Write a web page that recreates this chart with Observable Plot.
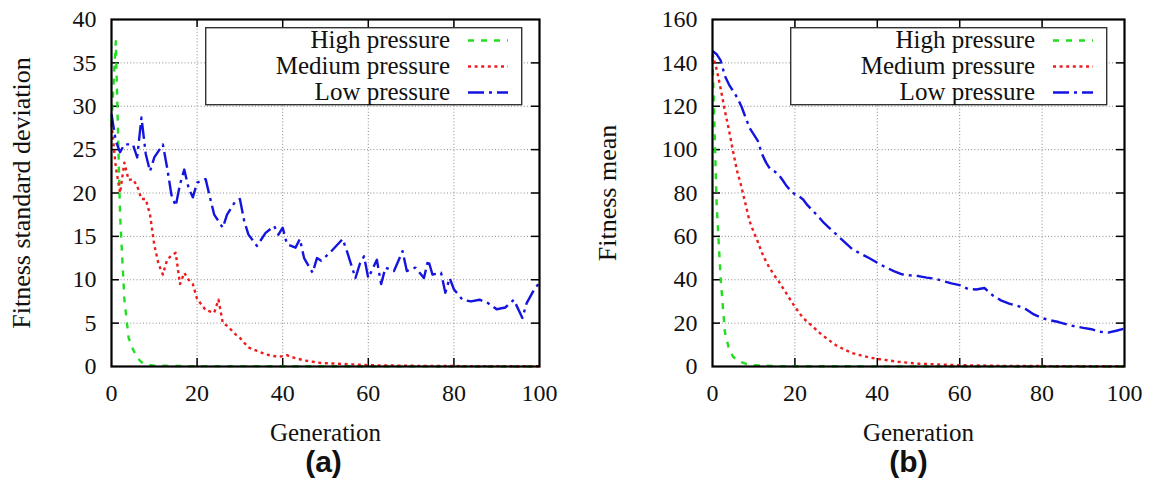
<!DOCTYPE html>
<html><head><meta charset="utf-8">
<script src="https://cdn.jsdelivr.net/npm/d3@7"></script>
<script src="https://cdn.jsdelivr.net/npm/@observablehq/plot@0.6"></script>
<style>
body{margin:0;background:#fff;}
#wrap{position:relative;width:1151px;height:482px;overflow:hidden;background:#fff;}
.panel{position:absolute;top:0;}
.legend{position:absolute;top:17px;overflow:visible;}
</style></head><body><div id="wrap"></div>
<script>
// ---------- shared ----------
const seriesNames = ["High pressure", "Medium pressure", "Low pressure"];
const seriesColors = ["#22dd22", "#ee1c1c", "#1414e0"];
const seriesDashes = ["6,7", "3,3.6", "16,5,3,5"];
const xTickValues = [0, 20, 40, 60, 80, 100];
const xLabel = "Generation";
const SERIF = '"Liberation Serif", "Times New Roman", serif';
const SANS = '"Liberation Sans", Arial, sans-serif';

// ---------- panel (a): fitness standard deviation ----------
const aYLabel = "Fitness standard deviation";
const aTag = "(a)";
const aYTicks = [0, 5, 10, 15, 20, 25, 30, 35, 40];
const aHighGen = [0, 1, 2, 3, 4, 5, 6, 7, 8, 10, 15, 100];
const aHighVal = [28, 37.5, 17.5, 7.8, 3.3, 2.0, 1.0, 0.5, 0.25, 0.1, 0.05, 0];
const aMedGen = [0, 1, 2, 3, 4, 5, 6, 7, 8, 9, 10, 11, 12, 13, 14, 15, 16, 17, 18, 19, 20, 22, 24, 25, 26, 27, 29, 30, 32, 34, 36, 39, 41, 42, 45, 49, 54, 60, 70, 80, 100];
const aMedVal = [28, 23, 20, 23.5, 21.5, 21.6, 20.8, 19.3, 19.3, 17.5, 14.0, 11.8, 10.6, 12.3, 12.8, 13.1, 9.5, 10.8, 10.0, 9.5, 7.8, 6.5, 6.2, 7.7, 5.0, 4.7, 3.7, 3.3, 2.2, 1.8, 1.4, 1.1, 1.3, 1.1, 0.7, 0.4, 0.3, 0.15, 0.08, 0.05, 0.03];
const aLowGen = [0, 1, 2, 3, 5, 6, 7, 8, 9, 10, 12, 13, 14, 15, 16, 17, 18, 19, 20, 22, 23, 24, 26, 27, 29, 30, 31, 32, 34, 36, 38, 39, 40, 41, 43, 44, 45, 47, 48, 49, 51, 54, 55, 57, 58, 59, 60, 62, 63, 64, 66, 68, 69, 71, 72, 73, 74, 75, 77, 78, 79, 80, 82, 84, 86, 88, 90, 92, 94, 96, 97, 99, 100];
const aLowVal = [29.1, 26.0, 24.7, 25.6, 25.6, 24.1, 28.7, 24.5, 22.5, 24.1, 25.6, 22.9, 19.8, 18.5, 21.0, 22.7, 20.6, 19.5, 21.2, 21.6, 19.5, 17.5, 16.0, 17.5, 19.1, 19.3, 16.8, 15.2, 13.9, 15.4, 16.2, 15.2, 16.0, 14.1, 13.7, 14.7, 12.5, 10.8, 12.5, 12.2, 13.1, 14.7, 13.3, 10.2, 11.8, 12.7, 10.2, 12.3, 9.5, 11.4, 11.0, 13.3, 11.0, 11.4, 10.8, 10.2, 12.3, 10.6, 10.8, 8.5, 10.2, 8.9, 7.7, 7.5, 7.7, 7.3, 6.6, 6.8, 7.7, 5.6, 7.3, 9.1, 9.6];

// ---------- panel (b): fitness mean ----------
const bYLabel = "Fitness mean";
const bTag = "(b)";
const bYTicks = [0, 20, 40, 60, 80, 100, 120, 140, 160];
const bHighGen = [0, 1, 2, 3, 4, 5, 6, 7, 8, 10, 12, 15, 20, 100];
const bHighVal = [143, 75, 40, 16, 8, 4.5, 3, 2, 1.3, 0.6, 0.4, 0.2, 0.1, 0];
const bMedGen = [0, 1, 2, 3, 4, 5, 6, 7, 8, 9, 10, 11, 12, 13, 14, 15, 16, 17, 18, 19, 20, 22, 24, 26, 28, 30, 32, 34, 36, 38, 40, 45, 50, 55, 60, 70, 80, 100];
const bMedVal = [144, 137, 128, 118, 109, 99, 90, 83, 75, 67, 62, 57.5, 52.5, 48.3, 45, 42, 39.5, 36.5, 33.5, 30.5, 27.5, 22.3, 19, 15.5, 12.5, 9.8, 7.8, 6.2, 5.1, 4.2, 3.5, 2.2, 1.3, 0.9, 0.6, 0.3, 0.2, 0.1];
const bLowGen = [0, 1, 2, 3, 4, 5, 6, 7, 8, 9, 10, 11, 12, 13, 14, 15, 16, 17, 18, 19, 20, 21, 22, 23, 24, 26, 27, 28, 30, 32, 34, 36, 38, 40, 42, 44, 46, 48, 50, 52, 54, 56, 58, 60, 62, 64, 66, 68, 70, 72, 74, 76, 78, 80, 82, 84, 86, 88, 90, 92, 94, 96, 98, 100];
const bLowVal = [145.5, 144, 141, 134, 130, 127, 124, 120, 115, 110, 107, 104, 98, 94, 91, 90, 88.6, 86, 83.2, 81, 79.4, 78.5, 77, 74.5, 72.5, 68.5, 66.3, 64.5, 61, 57.5, 54, 52, 50, 47.8, 45.8, 44, 42.5, 42, 41.7, 41, 40.5, 39.4, 38.3, 37.5, 35.8, 35.5, 36.2, 32.8, 30.5, 29, 28, 26.5, 24, 22.3, 21.3, 20.5, 19.4, 18.5, 17.8, 17.2, 16, 15.6, 16.5, 17.5];

const FRAME_TOP = 19, FRAME_BOTTOM = 366, H = 482;

function makePanel(cfg) {
  const series = [
    cfg.highGen.map((g, i) => ({g, v: cfg.highVal[i]})),
    cfg.medGen.map((g, i) => ({g, v: cfg.medVal[i]})),
    cfg.lowGen.map((g, i) => ({g, v: cfg.lowVal[i]}))
  ];
  const yMax = cfg.yTicks[cfg.yTicks.length - 1];
  const pw = cfg.width - cfg.mL - cfg.mR;
  const ph = FRAME_BOTTOM - FRAME_TOP;
  const tickLen = 8;
  const innerX = xTickValues.filter(t => t > 0 && t < 100);
  const innerY = cfg.yTicks.filter(t => t > 0 && t < yMax);
  return Plot.plot({
    width: cfg.width, height: H,
    marginLeft: cfg.mL, marginRight: cfg.mR, marginTop: FRAME_TOP, marginBottom: H - FRAME_BOTTOM,
    style: {fontFamily: SERIF, fontSize: "24px", color: "#111", background: "transparent", overflow: "visible"},
    x: {domain: [0, 100], axis: null},
    y: {domain: [0, yMax], axis: null},
    marks: [
      Plot.gridX(innerX, {stroke: "#8a8a8a", strokeOpacity: 1, strokeDasharray: "1,2.2", strokeWidth: 1}),
      Plot.gridY(innerY, {stroke: "#8a8a8a", strokeOpacity: 1, strokeDasharray: "1,2.2", strokeWidth: 1}),
      // tick labels
      Plot.text(xTickValues, {x: d => d, frameAnchor: "bottom", textAnchor: "middle", lineAnchor: "middle", dy: 27, fontSize: 24, fontFamily: SERIF, fill: "#111"}),
      Plot.text(cfg.yTicks, {y: d => d, frameAnchor: "left", textAnchor: "end", lineAnchor: "middle", dx: -15, fontSize: 24, fontFamily: SERIF, fill: "#111"}),
      // inward tick marks on all four sides
      Plot.tickX(innerX, {x: d => d, insetTop: ph - tickLen, stroke: "#000", strokeWidth: 1.5}),
      Plot.tickX(innerX, {x: d => d, insetBottom: ph - tickLen, stroke: "#000", strokeWidth: 1.5}),
      Plot.tickY(innerY, {y: d => d, insetRight: pw - tickLen, stroke: "#000", strokeWidth: 1.5}),
      Plot.tickY(innerY, {y: d => d, insetLeft: pw - tickLen, stroke: "#000", strokeWidth: 1.5}),
      ...series.map((s, i) => Plot.line(s, {x: "g", y: "v", stroke: seriesColors[i], strokeWidth: 2.4, strokeDasharray: seriesDashes[i], strokeLinecap: "butt"})),
      Plot.frame({stroke: "#000", strokeWidth: 2.2}),
      Plot.text([cfg.yLabel], {frameAnchor: "left", textAnchor: "middle", lineAnchor: "middle", dx: cfg.yLabelDx, rotate: -90, fontSize: 26, fontFamily: SERIF, fill: "#111"}),
      Plot.text([xLabel], {frameAnchor: "bottom", textAnchor: "middle", lineAnchor: "middle", dy: 66, fontSize: 25, fontFamily: SERIF, fill: "#111"}),
      Plot.text([cfg.tag], {frameAnchor: "bottom", textAnchor: "middle", lineAnchor: "middle", dy: 96, dx: cfg.tagDx, fontSize: 30, fontWeight: "bold", fontFamily: SANS, fill: "#111"})
    ]
  });
}

function makeLegend(left) {
  const ns = "http://www.w3.org/2000/svg";
  const svg = document.createElementNS(ns, "svg");
  svg.setAttribute("class", "legend");
  svg.setAttribute("width", 322); svg.setAttribute("height", 100);
  svg.style.left = (left - 2) + "px";
  const r = document.createElementNS(ns, "rect");
  r.setAttribute("x", 2.7); r.setAttribute("y", 10.7);
  r.setAttribute("width", 316); r.setAttribute("height", 77);
  r.setAttribute("fill", "#fff"); r.setAttribute("stroke", "#333"); r.setAttribute("stroke-width", 1.4);
  svg.appendChild(r);
  seriesNames.forEach((name, i) => {
    const base = 31 + i * 26;
    const t = document.createElementNS(ns, "text");
    t.setAttribute("x", 247); t.setAttribute("y", base);
    t.setAttribute("text-anchor", "end");
    t.setAttribute("font-family", SERIF);
    t.setAttribute("font-size", "25px"); t.setAttribute("fill", "#111");
    t.textContent = name;
    svg.appendChild(t);
    const l = document.createElementNS(ns, "line");
    l.setAttribute("x1", 265); l.setAttribute("x2", 305);
    l.setAttribute("y1", base - 7.5); l.setAttribute("y2", base - 7.5);
    l.setAttribute("stroke", seriesColors[i]); l.setAttribute("stroke-width", 2.4);
    l.setAttribute("stroke-dasharray", seriesDashes[i]);
    svg.appendChild(l);
  });
  return svg;
}

const wrap = document.getElementById("wrap");
const pa = makePanel({highGen: aHighGen, highVal: aHighVal, medGen: aMedGen, medVal: aMedVal, lowGen: aLowGen, lowVal: aLowVal,
  yTicks: aYTicks, yLabel: aYLabel, tag: aTag, width: 575, mL: 111, mR: 36, yLabelDx: -90, tagDx: -2});
pa.classList.add("panel"); pa.style.left = "0px";
wrap.appendChild(pa);
const pb = makePanel({highGen: bHighGen, highVal: bHighVal, medGen: bMedGen, medVal: bMedVal, lowGen: bLowGen, lowVal: bLowVal,
  yTicks: bYTicks, yLabel: bYLabel, tag: bTag, width: 576, mL: 137, mR: 27, yLabelDx: -105, tagDx: -10});
pb.classList.add("panel"); pb.style.left = "575px";
wrap.appendChild(pb);
wrap.appendChild(makeLegend(205));
wrap.appendChild(makeLegend(790));
</script>
</body></html>
